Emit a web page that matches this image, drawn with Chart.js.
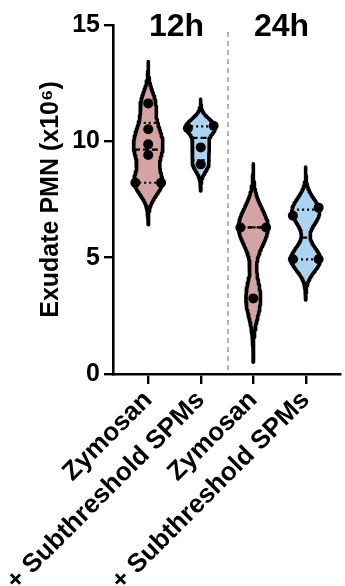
<!DOCTYPE html>
<html><head><meta charset="utf-8">
<script src="https://cdn.jsdelivr.net/npm/chart.js@4/dist/chart.umd.min.js"></script>
<style>html,body{margin:0;padding:0;background:#fff;} #wrap{width:345px;height:586px;position:relative;}</style>
</head><body><div id="wrap"><canvas id="c"></canvas></div>
<script>
// ---- data ----
const categories = ['Zymosan', '+ Subthreshold SPMs', 'Zymosan', '+ Subthreshold SPMs'];
const groupLabels = ['12h', '24h'];
const zymosan12h = [11.63, 10.52, 9.87, 9.41, 8.22, 8.22];
const spms12h = [10.67, 10.56, 9.74, 9.01];
const zymosan24h = [6.30, 6.30, 3.25];
const spms24h = [7.15, 6.80, 4.93, 4.93];
const yTicks = [0, 5, 10, 15];
const yTitle = 'Exudate PMN (x10\u2076)';

// ---- styles ----
const seriesValues = [zymosan12h, spms12h, zymosan24h, spms24h];
const fillColors = ['#d4a3a4', '#acd3ef', '#d4a3a4', '#acd3ef'];
const FONT = "'Liberation Sans', Arial, sans-serif";
const HALF = 0.28;    // max violin half-width (x units)
const SPREAD = 0.245; // horizontal spread for overlapping dots
const DOT_GAP = 0.4;  // values closer than this overlap

function mean(a){return a.reduce((s,v)=>s+v,0)/a.length;}
function sd(a){const m=mean(a);return Math.sqrt(a.reduce((s,v)=>s+(v-m)*(v-m),0)/(a.length-1));}
function kde(vals,h,y){let s=0;for(const v of vals){const z=(y-v)/h;s+=Math.exp(-0.5*z*z);}return s;}
function quantile(vals,p){const s=[...vals].sort((a,b)=>a-b);const n=s.length;const pos=(n+1)*p;
  if(pos<=1)return s[0]; if(pos>=n)return s[n-1]; const i=Math.floor(pos), f=pos-i; return s[i-1]+f*(s[i]-s[i-1]);}

const datasets = [];
seriesValues.forEach((vals, gi) => {
  const c = gi;
  const h = 0.57 * sd(vals) * Math.pow(vals.length, -0.2);
  const lo = Math.min(...vals) - 3.4*h, hi = Math.max(...vals) + 3.4*h;
  const N = 160; const ys = []; let maxD = 0;
  for (let k=0;k<=N;k++){ const y = lo + (hi-lo)*k/N; const d = kde(vals,h,y); ys.push([y,d]); if(d>maxD)maxD=d; }
  const width = y => kde(vals,h,y)/maxD*HALF;
  const outline = [];
  ys.forEach(([y,d]) => outline.push({x: c + d/maxD*HALF, y}));
  for (let k=ys.length-1;k>=0;k--){ const [y,d]=ys[k]; outline.push({x: c - d/maxD*HALF, y}); }
  outline.push(outline[0]);
  datasets.push({type:'line', data: outline, borderColor:'#000', borderWidth:3.6, backgroundColor: fillColors[gi],
    fill:'shape', pointRadius:0, tension:0, borderJoinStyle:'round', borderCapStyle:'round', order:3});
  // median + quartiles
  const med = quantile(vals,0.5), q1 = quantile(vals,0.25), q3 = quantile(vals,0.75);
  [[q1,[2,3]],[q3,[2,3]],[med,[6,3]]].forEach(([q,dash]) => {
    const w = width(q);
    datasets.push({type:'line', data:[{x:c-w,y:q},{x:c+w,y:q}], borderColor:'#000', borderWidth:2.2,
      borderDash:dash, pointRadius:0, fill:false, order:2});
  });
  // dots, overlapping ones spread horizontally
  const sorted = [...vals].sort((a,b)=>a-b); const clusters = [];
  sorted.forEach(v => { const last = clusters[clusters.length-1];
    if (last && v - last[last.length-1] < DOT_GAP) last.push(v); else clusters.push([v]); });
  const dots = [];
  clusters.forEach(cl => cl.forEach((v,i) => {
    const off = cl.length>1 ? -SPREAD + 2*SPREAD*i/(cl.length-1) : 0;
    dots.push({x: c+off, y: v});
  }));
  datasets.push({type:'line', data: dots, showLine:false, pointRadius:5, pointBackgroundColor:'#000',
    pointBorderWidth:0, order:0});
});

const groupPlugin = {
  id:'groups',
  beforeDatasetsDraw(chart){
    const {ctx, chartArea, scales:{x}} = chart;
    ctx.save(); ctx.strokeStyle='#8c8c8c'; ctx.lineWidth=1.3; ctx.setLineDash([5,4]);
    for (let g=1; g<groupLabels.length; g++){
      const px = x.getPixelForValue(2*g - 0.5) + 1;
      ctx.beginPath(); ctx.moveTo(px, chartArea.top+7); ctx.lineTo(px, chartArea.bottom); ctx.stroke();
    }
    ctx.restore();
  },
  afterDraw(chart){
    const {ctx, chartArea, scales:{x}} = chart;
    ctx.save(); ctx.fillStyle='#000'; ctx.font = "bold 32px " + FONT; ctx.textAlign='center'; ctx.textBaseline='alphabetic';
    groupLabels.forEach((t,g) => ctx.fillText(t, x.getPixelForValue(2*g+0.5) + 2, chartArea.top+11));
    ctx.restore();
  }
};

new Chart(document.getElementById('c'), {
  type:'line',
  data:{datasets},
  plugins:[groupPlugin],
  options:{
    responsive:true, maintainAspectRatio:false, animation:false,
    layout:{padding:{top:25,left:0,right:0,bottom:0}},
    plugins:{legend:{display:false}, tooltip:{enabled:false}},
    scales:{
      x:{type:'linear', min:-0.671, max:3.652,
        afterBuildTicks: s => { s.ticks = categories.map((_,i)=>({value:i})); },
        afterFit: s => { s.height = 212; },
        ticks:{callback: v => categories[v] ?? '', autoSkip:false, minRotation:45, maxRotation:45,
          color:'#000', font:{family:FONT, size:26, weight:'bold'}, padding:1},
        grid:{drawOnChartArea:false, drawTicks:true, tickLength:10, color:'#000', lineWidth:2.4},
        border:{display:true, color:'#000', width:2.6}
      },
      y:{type:'linear', min:0, max:15,
        afterBuildTicks: s => { s.ticks = yTicks.map(v=>({value:v})); },
        afterFit: s => { s.width = 113; },
        ticks:{color:'#000', font:{family:FONT, size:25, weight:'bold'}, padding:4},
        grid:{drawOnChartArea:false, drawTicks:true, tickLength:9, color:'#000', lineWidth:2.4},
        border:{display:true, color:'#000', width:2.6},
        title:{display:true, text:yTitle, color:'#000', font:{family:FONT, size:25, weight:'bold'}, padding:{top:36, bottom:0}}
      }
    }
  }
});
</script></body></html>
